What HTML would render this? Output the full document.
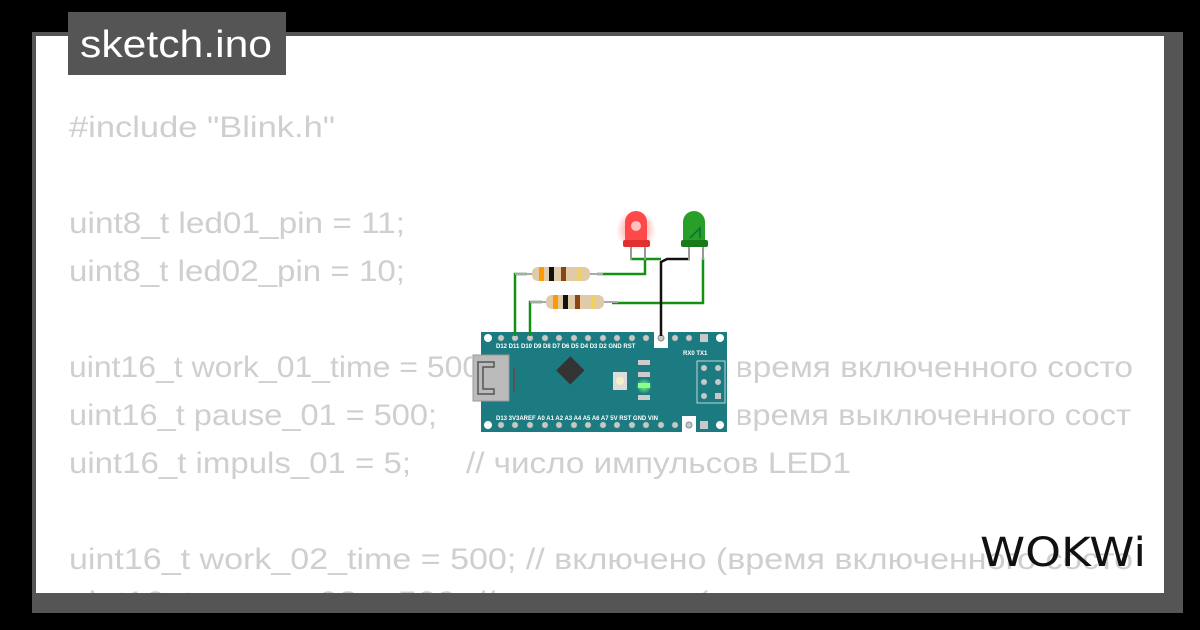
<!DOCTYPE html>
<html><head><meta charset="utf-8"><style>
html,body{margin:0;padding:0;background:#000;width:1200px;height:630px;overflow:hidden}
svg{display:block}
.c{font-family:"Liberation Sans","DejaVu Sans",sans-serif;font-size:30px;fill:#cfcfcf}
.p{font-family:"Liberation Sans",sans-serif;font-size:6px;fill:#fff;font-weight:bold}
</style></head><body>
<svg width="1200" height="630" viewBox="0 0 1200 630" xmlns="http://www.w3.org/2000/svg">
<defs>
<clipPath id="panel"><rect x="36" y="36" width="1128" height="557"/></clipPath>
<radialGradient id="glow"><stop offset="0" stop-color="#ff5050" stop-opacity=".8"/><stop offset="1" stop-color="#ff5050" stop-opacity="0"/></radialGradient>
<radialGradient id="gg"><stop offset="0" stop-color="#7dff7d"/><stop offset="1" stop-color="#7dff7d" stop-opacity="0"/></radialGradient>
</defs>
<rect x="32" y="32" width="1151" height="581" fill="#555"/>
<rect x="36" y="36" width="1128" height="557" fill="#fff"/>
<g clip-path="url(#panel)" class="c">
<text x="69" y="137" textLength="266" lengthAdjust="spacingAndGlyphs">#include "Blink.h"</text>
<text x="69" y="233" textLength="336" lengthAdjust="spacingAndGlyphs">uint8_t led01_pin = 11;</text>
<text x="69" y="281" textLength="336" lengthAdjust="spacingAndGlyphs">uint8_t led02_pin = 10;</text>
<text x="69" y="377" textLength="420" lengthAdjust="spacingAndGlyphs">uint16_t work_01_time = 500;</text>
<text x="735" y="377" textLength="398" lengthAdjust="spacingAndGlyphs">время включенного состо</text>
<text x="69" y="425" textLength="368" lengthAdjust="spacingAndGlyphs">uint16_t pause_01 = 500;</text>
<text x="735" y="425" textLength="396" lengthAdjust="spacingAndGlyphs">время выключенного сост</text>
<text x="69" y="473" textLength="342" lengthAdjust="spacingAndGlyphs">uint16_t impuls_01 = 5;</text>
<text x="466" y="473" textLength="385" lengthAdjust="spacingAndGlyphs">// число импульсов LED1</text>
<text x="69" y="569" textLength="1064" lengthAdjust="spacingAndGlyphs">uint16_t work_02_time = 500; // включено (время включенного состо</text>
<text x="69" y="612" textLength="1064" lengthAdjust="spacingAndGlyphs">uint16_t pause_02 = 500;     // выключено (время выключенного сост</text>
</g>
<rect x="68" y="12" width="218" height="63" fill="#555"/>
<text x="80" y="57" font-family="Liberation Sans,sans-serif" font-size="38" fill="#fff" textLength="192" lengthAdjust="spacingAndGlyphs">sketch.ino</text>

<rect x="472" y="205" width="266" height="231" fill="#fff"/>
<rect x="481" y="332" width="246" height="100" fill="#1b7b80"/>
<g fill="#fff"><circle cx="488" cy="338" r="4"/><circle cx="720" cy="338" r="4"/><circle cx="488" cy="425" r="4"/><circle cx="720" cy="425" r="4"/></g>
<g fill="#c8c8c8" stroke="#8a9" stroke-width=".5">
<circle cx="501" cy="338" r="3"/><circle cx="515" cy="338" r="3"/><circle cx="530" cy="338" r="3"/><circle cx="545" cy="338" r="3"/><circle cx="559" cy="338" r="3"/><circle cx="574" cy="338" r="3"/><circle cx="588" cy="338" r="3"/><circle cx="603" cy="338" r="3"/><circle cx="617" cy="338" r="3"/><circle cx="632" cy="338" r="3"/><circle cx="646" cy="338" r="3"/><circle cx="675" cy="338" r="3"/><circle cx="689" cy="338" r="3"/>
<circle cx="501" cy="425" r="3"/><circle cx="515" cy="425" r="3"/><circle cx="530" cy="425" r="3"/><circle cx="545" cy="425" r="3"/><circle cx="559" cy="425" r="3"/><circle cx="574" cy="425" r="3"/><circle cx="588" cy="425" r="3"/><circle cx="603" cy="425" r="3"/><circle cx="617" cy="425" r="3"/><circle cx="632" cy="425" r="3"/><circle cx="646" cy="425" r="3"/><circle cx="661" cy="425" r="3"/><circle cx="675" cy="425" r="3"/>
</g>
<rect x="654" y="332" width="14" height="16" fill="#fff"/><circle cx="661" cy="338" r="3" fill="#c8c8c8" stroke="#888"/>
<rect x="682" y="416" width="14" height="16" fill="#fff"/><circle cx="689" cy="425" r="3" fill="#c8c8c8" stroke="#888"/>
<rect x="700" y="334" width="8" height="8" fill="#c8c8c8"/><rect x="700" y="421" width="8" height="8" fill="#c8c8c8"/>
<g class="p"><text x="496" y="348">D12 D11 D10 D9  D8  D7  D6  D5  D4  D3  D2 GND RST</text><text x="683" y="355">RX0 TX1</text>
<text x="496" y="420">D13 3V3AREF A0  A1  A2  A3  A4  A5  A6  A7  5V  RST GND VIN</text></g>
<rect x="697" y="361" width="28" height="42" fill="none" stroke="#eee" stroke-width=".8"/>
<g fill="#c8c8c8"><circle cx="704" cy="368" r="3"/><circle cx="718" cy="368" r="3"/><circle cx="704" cy="382" r="3"/><circle cx="718" cy="382" r="3"/><circle cx="704" cy="396" r="3"/><rect x="715" y="393" width="6" height="6"/></g>
<rect x="473" y="355" width="36" height="46" fill="#bbb" stroke="#999"/>
<path d="M478 362h16v5h-11v22h11v5h-16z" fill="none" stroke="#555" stroke-width="1.5"/>
<line x1="514" y1="368" x2="514" y2="392" stroke="#555" stroke-width="2"/>
<rect x="566" y="366" width="20" height="20" fill="#333" transform="rotate(45 576 376) translate(-8 0)"/>
<rect x="613" y="372" width="14" height="18" fill="#ddd"/><circle cx="620" cy="381" r="4" fill="#f4f0c8"/>
<g fill="#ccc"><rect x="638" y="360" width="12" height="5"/><rect x="638" y="372" width="12" height="5"/><rect x="638" y="395" width="12" height="5"/></g>
<circle cx="644" cy="386" r="8" fill="url(#gg)"/><rect x="638" y="383" width="12" height="5" fill="#8f8"/>
<g fill="none" stroke="#129112" stroke-width="2.5">
<path d="M515 336V274h12"/><path d="M530 336V302h12"/>
<path d="M597 274h48v-15"/><path d="M631 259h30"/>
<path d="M612 303h91v-45"/>
</g>
<path d="M661 336V262l6-3h23" fill="none" stroke="#111" stroke-width="2.5"/>
<g stroke="#aaa" stroke-width="2"><line x1="515" y1="274" x2="603" y2="274"/><line x1="530" y1="302" x2="618" y2="302"/></g>
<rect x="532" y="267" width="58" height="14" rx="6" fill="#e0cba8"/>
<g><rect x="539" y="267" width="5" height="14" fill="#f90"/><rect x="549" y="267" width="5" height="14" fill="#111"/><rect x="561" y="267" width="5" height="14" fill="#8b4513"/><rect x="577" y="267" width="5" height="14" fill="#f0d060"/></g>
<rect x="546" y="295" width="58" height="14" rx="6" fill="#e0cba8"/>
<g><rect x="553" y="295" width="5" height="14" fill="#f90"/><rect x="563" y="295" width="5" height="14" fill="#111"/><rect x="575" y="295" width="5" height="14" fill="#8b4513"/><rect x="591" y="295" width="5" height="14" fill="#f0d060"/></g>
<g stroke="#999" stroke-width="2"><line x1="631" y1="246" x2="631" y2="260"/><line x1="645" y1="246" x2="645" y2="260"/><line x1="689" y1="246" x2="689" y2="260"/><line x1="703" y1="246" x2="703" y2="260"/></g>
<circle cx="636" cy="230" r="20" fill="url(#glow)"/>
<path d="M625 246v-24a11 11 0 0 1 22 0v24z" fill="#ff4848"/><rect x="623" y="240" width="27" height="7" rx="2" fill="#e03030"/>
<circle cx="636" cy="226" r="5" fill="#ffc0c0"/>
<path d="M683 246v-24a11 11 0 0 1 22 0v24z" fill="#28a028"/><rect x="681" y="240" width="27" height="7" rx="2" fill="#1a7a1a"/>
<path d="M690 238l10-10v10" fill="none" stroke="#164" stroke-width="1.5"/>
<text x="980" y="566" font-family="DejaVu Sans,sans-serif" font-size="40" fill="#111" textLength="166" lengthAdjust="spacingAndGlyphs">WOKWi</text>
</svg>
</body></html>
